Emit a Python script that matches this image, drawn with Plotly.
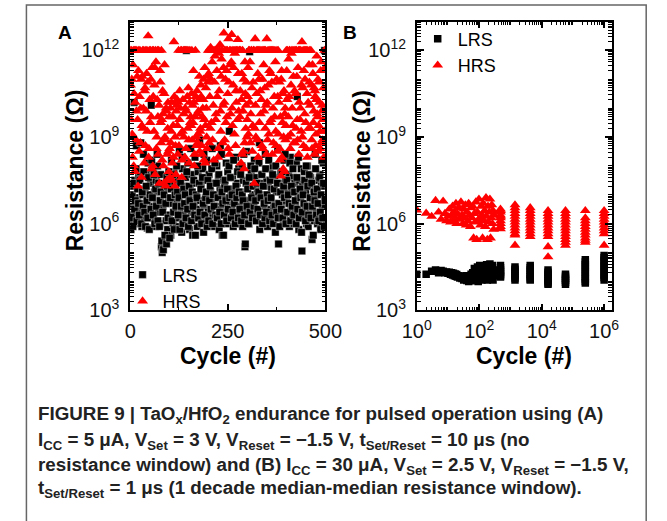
import plotly.graph_objects as go

# ---------------- data (log10 of resistance in ohms) ----------------
A_cycles_even = list(range(0, 500, 2))
A_cycles_odd = list(range(1, 500, 2))

A_lrs_even_log10 = [
    6.3, 5.8, 7.3, 6.6, 6.1, 10.2, 7.5, 6.4, 8.7, 6.9,
    6.0, 7.6, 6.5, 7.8, 6.2, 5.9, 7.0, 8.4, 6.7, 7.2,
    6.4, 7.7, 5.85, 8.1, 6.9, 6.3, 7.4, 10.1, 6.6, 7.9,
    6.2, 7.1, 5.9, 7.5, 6.8, 8.0, 6.4, 7.3, 6.0, 7.7,
    5.2, 5.0, 6.6, 5.3, 7.2, 5.5, 6.1, 7.6, 5.8, 6.9,
    6.3, 7.4, 5.6, 8.2, 6.7, 6.0, 7.8, 6.4, 7.1, 5.9,
    6.8, 7.5, 6.2, 8.5, 6.5, 7.0, 5.7, 7.9, 6.3, 7.3,
    6.1, 7.6, 12.0, 6.6, 8.1, 6.9, 5.8, 7.2, 6.4, 7.7,
    5.6, 7.4, 6.7, 8.3, 6.2, 7.0, 5.9, 7.8, 6.5, 8.9,
    6.8, 7.3, 6.1, 7.9, 5.7, 6.6, 7.5, 6.3, 8.2, 6.9,
    6.4, 7.7, 6.0, 7.1, 6.8, 8.6, 6.2, 7.4, 5.9, 7.0,
    6.6, 8.0, 6.3, 7.6, 5.8, 7.2, 6.5, 8.4, 5.6, 7.5,
    6.9, 7.3, 6.4, 8.1, 6.0, 7.8, 6.7, 9.2, 6.2, 7.0,
    6.5, 7.6, 5.9, 7.2, 6.8, 8.3, 6.3, 7.4, 6.0, 7.9,
    6.6, 7.1, 6.2, 8.0, 5.9, 7.5, 6.4, 5.2, 6.1, 8.5,
    6.8, 7.3, 6.0, 11.95, 6.5, 7.8, 6.2, 7.0, 6.7, 8.2,
    6.4, 7.6, 6.1, 7.2, 6.9, 8.1, 5.8, 7.4, 6.3, 7.7,
    6.0, 7.0, 6.6, 8.4, 6.2, 7.5, 5.9, 7.3, 6.8, 7.9,
    6.5, 7.2, 6.1, 8.0, 6.7, 7.6, 5.7, 7.1, 6.4, 8.6,
    5.3, 7.4, 6.2, 7.8, 6.6, 7.0, 6.0, 8.2, 6.3, 7.5,
    6.8, 7.2, 6.1, 7.7, 5.9, 8.3, 6.5, 7.1, 6.2, 7.6,
    6.0, 7.4, 6.7, 8.1, 10.4, 7.0, 5.8, 7.5, 6.4, 7.9,
    5.05, 7.3, 6.2, 7.8, 6.6, 7.1, 6.0, 8.0, 5.9, 7.4,
    6.5, 7.6, 6.3, 5.45, 6.8, 7.2, 6.1, 8.4, 6.4, 7.0,
    6.0, 7.5, 6.2, 7.7, 5.8, 7.3, 6.6, 8.1, 6.1, 12.0,
]
A_lrs_odd_log10 = [
    6.9, 6.2, 7.0, 5.9, 7.4, 6.5, 6.8, 7.9, 6.1, 7.2,
    6.7, 6.3, 7.5, 8.8, 6.0, 7.1, 6.6, 7.8, 6.4, 5.9,
    7.3, 6.8, 6.2, 7.6, 5.8, 7.0, 6.5, 8.2, 6.9, 6.3,
    7.7, 6.0, 7.2, 6.6, 8.4, 6.1, 7.4, 5.9, 6.8, 7.1,
    5.4, 6.4, 5.1, 7.0, 5.6, 6.7, 5.3, 7.3, 6.2, 7.8,
    5.5, 6.9, 7.2, 6.1, 7.7, 6.4, 5.8, 7.0, 6.6, 8.0,
    7.1, 6.3, 6.9, 5.8, 7.4, 6.6, 8.3, 6.0, 7.2, 6.7,
    7.0, 6.2, 7.8, 6.5, 5.9, 7.3, 6.8, 8.6, 6.1, 7.1,
    6.6, 7.5, 6.3, 5.6, 7.0, 6.9, 8.0, 6.2, 7.4, 6.4,
    7.2, 6.0, 7.6, 6.7, 8.4, 6.3, 6.9, 7.1, 5.9, 7.5,
    6.1, 6.8, 7.3, 6.5, 7.9, 6.0, 7.0, 6.6, 8.1, 6.3,
    7.4, 6.2, 6.9, 7.7, 6.4, 8.7, 6.0, 7.1, 6.7, 5.6,
    6.3, 7.5, 6.8, 6.1, 7.2, 6.5, 8.0, 6.9, 7.6, 6.2,
    7.0, 6.4, 8.2, 6.7, 6.0, 7.3, 6.9, 7.8, 6.2, 7.1,
    6.5, 7.7, 6.1, 7.0, 6.8, 8.4, 6.3, 5.3, 7.4, 6.6,
    7.2, 6.0, 7.6, 6.4, 8.0, 6.9, 6.2, 7.3, 6.6, 7.9,
    6.8, 6.1, 7.4, 6.5, 7.1, 8.8, 6.3, 6.9, 7.7, 6.0,
    7.3, 6.7, 6.2, 7.9, 6.4, 7.0, 6.8, 8.2, 6.1, 7.5,
    6.9, 6.3, 7.7, 6.0, 7.2, 6.6, 8.0, 6.4, 7.4, 6.2,
    6.7, 5.9, 7.1, 6.5, 7.8, 6.2, 7.3, 6.9, 8.4, 6.0,
    7.5, 6.4, 7.0, 6.7, 8.1, 6.1, 7.3, 6.6, 7.9, 6.3,
    7.1, 6.8, 6.0, 7.6, 6.5, 8.3, 6.2, 7.2, 6.9, 5.7,
    6.4, 7.0, 6.7, 7.5, 6.1, 8.0, 6.6, 7.3, 6.3, 7.7,
    6.9, 6.2, 7.4, 6.6, 5.6, 7.1, 6.8, 7.9, 6.3, 7.2,
    6.7, 6.1, 7.6, 6.4, 7.0, 8.2, 6.2, 7.4, 5.9, 6.8,
]

A_hrs_even_log10 = [
    12.0, 9.6, 11.0, 8.3, 12.0, 10.5, 7.8, 12.0, 9.9, 11.1,
    7.3, 12.0, 10.4, 8.8, 11.0, 9.4, 12.0, 10.0, 8.1, 10.7,
    12.0, 11.2, 9.2, 12.5, 8.6, 10.3, 12.0, 9.7, 11.4, 8.0,
    12.0, 10.8, 7.7, 11.6, 9.0, 12.0, 8.4, 10.1, 11.3, 9.5,
    12.0, 8.2, 9.8, 7.4, 11.5, 8.9, 10.0, 7.5, 9.3, 8.5,
    9.7, 7.6, 8.8, 10.2, 8.1, 9.4, 12.3, 7.3, 8.7, 9.9,
    10.3, 8.4, 12.0, 9.6, 10.0, 12.0, 7.6, 9.2, 12.0, 9.0,
    8.3, 12.0, 9.9, 10.4, 12.0, 8.9, 10.2, 9.5, 9.4, 12.0,
    10.1, 11.3, 8.0, 9.7, 10.4, 8.7, 9.8, 9.1, 10.3, 8.5,
    9.3, 10.4, 8.4, 10.0, 11.0, 9.6, 8.1, 10.7, 9.0, 11.1,
    12.0, 8.8, 10.4, 12.1, 9.5, 11.6, 12.0, 8.2, 10.9, 12.0,
    9.8, 11.3, 12.0, 8.6, 10.6, 12.2, 9.2, 11.7, 12.0, 10.1,
    12.6, 8.9, 11.0, 12.0, 9.7, 10.5, 12.4, 8.4, 11.5, 12.0,
    12.55, 9.4, 10.8, 12.0, 11.9, 8.7, 10.2, 12.0, 12.37, 9.9,
    12.0, 10.6, 8.1, 11.2, 12.0, 8.5, 7.9, 11.6, 9.3, 10.9,
    9.6, 11.4, 12.0, 10.2, 8.8, 12.0, 10.7, 9.4, 12.0, 7.4,
    12.4, 9.0, 10.5, 12.0, 8.3, 11.0, 12.0, 9.8, 10.3, 12.0,
    8.6, 11.5, 12.0, 9.3, 10.1, 12.4, 8.9, 10.8, 12.0, 9.5,
    11.2, 12.0, 8.4, 10.0, 12.0, 9.7, 11.6, 8.7, 12.0, 10.4,
    9.1, 10.9, 8.2, 7.65, 11.3, 9.5, 7.9, 10.6, 9.8, 8.9,
    12.0, 10.3, 9.0, 11.7, 12.0, 8.6, 10.8, 12.0, 9.4, 11.1,
    12.0, 8.8, 10.5, 12.0, 9.6, 11.4, 8.4, 12.0, 10.0, 9.2,
    12.3, 10.7, 8.7, 12.0, 11.0, 9.5, 12.0, 8.3, 10.2, 11.5,
    12.0, 9.3, 10.8, 8.6, 11.2, 9.9, 8.4, 10.4, 9.1, 11.8,
    9.7, 8.5, 10.9, 9.2, 11.3, 8.8, 10.1, 9.6, 8.3, 12.0,
]
A_hrs_odd_log10 = [
    10.8, 12.0, 9.1, 11.5, 8.0, 12.0, 10.2, 8.9, 12.0, 9.6,
    11.3, 8.5, 12.0, 10.0, 7.6, 11.1, 9.3, 12.0, 10.6, 8.7,
    9.9, 12.0, 10.9, 8.3, 12.0, 9.5, 11.0, 7.9, 12.0, 10.4,
    9.2, 11.4, 12.0, 8.6, 10.3, 9.7, 12.0, 7.4, 10.9, 8.8,
    9.6, 10.6, 8.0, 10.5, 9.0, 7.3, 9.9, 8.4, 10.2, 7.8,
    8.6, 10.0, 9.2, 7.5, 9.7, 8.3, 10.4, 9.0, 7.7, 10.1,
    9.4, 10.2, 8.7, 10.6, 9.1, 12.0, 8.2, 10.3, 9.8, 12.0,
    10.0, 8.6, 12.0, 9.3, 10.7, 8.1, 12.0, 9.7, 10.5, 8.9,
    9.5, 10.2, 8.4, 12.0, 9.0, 10.6, 8.8, 9.9, 11.1, 9.2,
    10.8, 8.7, 9.7, 10.3, 8.2, 11.4, 9.4, 10.0, 8.6, 10.9,
    11.2, 12.0, 9.3, 11.0, 12.0, 8.9, 10.1, 12.0, 11.8, 9.6,
    12.0, 10.4, 8.3, 11.9, 12.0, 9.9, 11.1, 12.0, 8.8, 11.4,
    10.2, 12.0, 9.5, 11.3, 12.0, 8.6, 10.9, 12.0, 9.8, 11.6,
    10.0, 12.0, 11.4, 9.1, 12.0, 10.6, 12.0, 9.6, 11.2, 12.0,
    9.7, 12.0, 10.3, 8.4, 9.9, 11.0, 8.8, 10.5, 10.1, 9.0,
    10.4, 9.1, 12.0, 11.6, 9.8, 12.0, 8.5, 10.9, 12.0, 9.3,
    10.1, 12.0, 8.9, 11.2, 12.0, 9.5, 10.6, 12.0, 8.7, 11.0,
    12.0, 9.9, 10.7, 12.0, 8.4, 10.2, 12.0, 9.1, 11.3, 12.0,
    9.6, 10.9, 12.0, 8.8, 10.4, 12.0, 9.2, 11.0, 8.5, 12.0,
    10.2, 8.6, 9.7, 11.0, 8.3, 10.5, 9.0, 7.8, 10.0, 9.4,
    11.3, 12.0, 9.7, 10.4, 12.0, 9.1, 11.9, 10.0, 12.0, 8.8,
    10.6, 12.0, 9.3, 11.1, 8.9, 12.0, 10.2, 9.6, 12.0, 10.8,
    9.0, 12.0, 11.3, 9.8, 12.0, 8.6, 10.5, 12.0, 9.3, 10.9,
    10.1, 12.0, 8.9, 11.5, 9.5, 10.7, 10.6, 8.7, 10.3, 9.8,
    11.0, 9.4, 10.2, 8.6, 11.6, 9.9, 8.9, 10.7, 9.2, 11.4,
]

B_early_cycles = [
    1, 2, 3, 4, 5, 6, 7, 8, 9, 10,
    11, 12, 13, 14, 15, 16, 17, 18, 19, 20,
    22, 24, 26, 28, 30, 32, 34, 36, 38, 40,
    43, 46, 49, 52, 55, 58,
    62, 66, 70, 74, 78,
    83, 88, 93, 98,
    104, 110, 116, 122, 128,
    135, 142, 149,
    157, 165, 173,
    182, 191, 200,
    210, 220,
    231, 242, 253,
    265, 277, 290, 300,
]
B_early_lrs_log10 = [
    4.25, 4.25, 4.35, 4.4, 4.3, 4.38, 4.35, 4.3, 4.33, 4.28,
    4.32, 4.25, 4.3, 4.22, 4.28, 4.2, 4.26, 4.18, 4.24, 4.15,
    4.2, 4.12, 4.18, 4.1, 4.16, 4.05, 4.14, 4.08, 4.2, 4.03,
    4.12, 4.0, 4.18, 4.07, 4.25, 4.02,
    4.3, 4.1, 4.45, 4.05, 4.38,
    4.15, 4.5, 4.0, 4.35,
    4.55, 4.1, 4.4, 4.05, 4.48,
    4.2, 4.52, 4.08,
    4.42, 4.12, 4.58,
    4.05, 4.35, 4.5,
    4.15, 4.6,
    4.1, 4.45, 4.25,
    4.55, 4.05, 4.4, 4.2,
]
B_early_hrs_log10 = [
    6.47, 6.36, 6.25, 6.8, 6.4, 6.15, 6.78, 6.35, 6.1, 6.25,
    6.5, 6.05, 6.3, 6.6, 6.1, 6.4, 6.2, 6.7, 6.0, 6.35,
    6.55, 6.15, 6.75, 6.3, 6.0, 6.5, 6.2, 6.65, 5.95, 6.4,
    6.1, 6.7, 6.3, 5.9, 6.55, 6.2,
    6.6, 5.5, 6.35, 6.05, 6.75,
    5.45, 6.4, 6.1, 6.85,
    6.2, 5.95, 6.6, 6.3, 5.5,
    6.7, 6.1, 6.45,
    5.9, 6.9, 6.25,
    5.45, 6.6, 6.05,
    6.4, 6.85,
    5.5, 6.2, 6.65,
    6.0, 6.45, 5.8, 6.3,
]

B_cluster_cycles = [480, 1400, 4300, 16000, 58000, 250000, 1000000]
B_cluster_lrs_log10 = [
    [4.55, 4.47, 4.4, 4.33, 4.26, 4.2, 4.15],
    [4.5, 4.42, 4.35, 4.27, 4.2, 4.12, 4.05],
    [4.55, 4.47, 4.4, 4.32, 4.24, 4.16, 4.08, 4.05],
    [4.4, 4.32, 4.25, 4.17, 4.1, 4.02, 3.95, 3.9],
    [4.25, 4.18, 4.11, 4.04, 3.97, 3.9],
    [4.75, 4.67, 4.58, 4.5, 4.42, 4.33, 4.25, 4.17, 4.08, 4.0, 3.95],
    [4.9, 4.82, 4.73, 4.65, 4.56, 4.48, 4.4, 4.3, 4.22, 4.14, 4.05],
]
B_cluster_hrs_log10 = [
    [6.5, 6.4, 6.3, 6.2, 6.1, 6.0, 5.9, 5.82, 6.45, 6.25],
    [6.65, 6.55, 6.45, 6.35, 6.25, 6.15, 6.05, 5.95, 5.85, 5.75, 5.65, 5.6, 5.25],
    [6.55, 6.45, 6.35, 6.25, 6.15, 6.05, 5.95, 5.85, 5.75, 5.65, 5.55],
    [6.45, 6.35, 6.25, 6.15, 6.05, 5.95, 5.85, 5.75, 5.65, 5.55, 5.2, 4.85],
    [6.45, 6.35, 6.25, 6.15, 6.05, 5.95, 5.85, 5.75, 5.65, 5.55, 5.45, 5.35, 5.25],
    [6.45, 6.2, 6.1, 6.0, 5.9, 5.8, 5.7, 5.6, 5.5, 5.42, 5.35],
    [6.45, 6.35, 6.25, 6.15, 6.05, 5.95, 5.85, 5.75, 5.65, 5.25],
]

series_names = ["LRS", "HRS"]
panel_labels = ["A", "B"]
axis_title_x = "Cycle (#)"
axis_title_y = "Resistance (Ω)"
A_x_ticks = [0, 250, 500]
res_tick_exponents = [3, 6, 9, 12]
B_x_tick_exponents = [0, 2, 4, 6]
caption_lines = [
    "FIGURE 9 | TaO<sub>x</sub>/HfO<sub>2</sub> endurance for pulsed operation using (A)",
    "I<sub>CC</sub> = 5 μA, V<sub>Set</sub> = 3 V, V<sub>Reset</sub> = −1.5 V, t<sub>Set/Reset</sub> = 10 μs (no",
    "resistance window) and (B) I<sub>CC</sub> = 30 μA, V<sub>Set</sub> = 2.5 V, V<sub>Reset</sub> = −1.5 V,",
    "t<sub>Set/Reset</sub> = 1 μs (1 decade median-median resistance window).",
]

# ---------------- build ----------------
W, H = 667, 521
FONT = "Arial, 'Liberation Sans', sans-serif"


def px_x(v):
    return v / W


def px_y(v):
    return 1 - v / H


def flat_x(cycles, groups):
    return [c for c, g in zip(cycles, groups) for _ in g]


def flat_v(groups):
    return [10 ** v for g in groups for v in g]


def pow_label(e):
    return f"10<sup>{e}</sup>"


A_x = A_cycles_even + A_cycles_odd
A_lrs_y = [10 ** v for v in A_lrs_even_log10 + A_lrs_odd_log10]
A_hrs_y = [10 ** v for v in A_hrs_even_log10 + A_hrs_odd_log10]

B_lrs_x = B_early_cycles + flat_x(B_cluster_cycles, B_cluster_lrs_log10)
B_lrs_y = [10 ** v for v in B_early_lrs_log10] + flat_v(B_cluster_lrs_log10)
B_hrs_x = B_early_cycles + flat_x(B_cluster_cycles, B_cluster_hrs_log10)
B_hrs_y = [10 ** v for v in B_early_hrs_log10] + flat_v(B_cluster_hrs_log10)

sq_a = dict(symbol="square", size=7.5, color="black", line=dict(width=0.4, color="white"))
sq_b = dict(symbol="square", size=7.5, color="black", line=dict(width=0))
tri = dict(symbol="triangle-up", size=9.5, color="#ff0000", line=dict(width=0))

fig = go.Figure()
fig.add_trace(go.Scatter(x=A_x, y=A_lrs_y, mode="markers",
                         marker=sq_a, name=series_names[0], xaxis="x", yaxis="y", legend="legend"))
fig.add_trace(go.Scatter(x=A_x, y=A_hrs_y, mode="markers",
                         marker=tri, name=series_names[1], xaxis="x", yaxis="y", legend="legend"))
fig.add_trace(go.Scatter(x=B_lrs_x, y=B_lrs_y, mode="markers",
                         marker=sq_b, name=series_names[0], xaxis="x2", yaxis="y2", legend="legend2"))
fig.add_trace(go.Scatter(x=B_hrs_x, y=B_hrs_y, mode="markers",
                         marker=tri, name=series_names[1], xaxis="x2", yaxis="y2", legend="legend2"))

res_minor = [m * 10 ** d for d in range(3, 13) for m in range(1, 10) if not (m == 1 and d % 3 == 0)]
cyc_minor = [m * 10 ** d for d in range(0, 7) for m in range(1, 10) if not (m == 1 and d % 2 == 0)]

common = dict(showline=True, linecolor="black", linewidth=1.6, mirror="allticks",
              ticks="inside", ticklen=7, tickwidth=1.5, tickcolor="black",
              showgrid=False, zeroline=False,
              tickfont=dict(family=FONT, size=20, color="#111"))
minor_common = dict(ticks="inside", ticklen=4, tickwidth=1, tickcolor="black", showgrid=False)

ydom = [px_y(317), px_y(22)]
res_axis = dict(domain=ydom, type="log", range=[3, 13], tickmode="array",
                tickvals=[10 ** e for e in res_tick_exponents],
                ticktext=[pow_label(e) for e in res_tick_exponents],
                ticklabelstandoff=5,
                minor=dict(tickmode="array", tickvals=res_minor, **minor_common), **common)

fig.update_layout(
    width=W, height=H, autosize=False,
    margin=dict(l=0, r=0, t=0, b=0),
    paper_bgcolor="white", plot_bgcolor="white",
    font=dict(family=FONT, color="black"),
    xaxis=dict(domain=[px_x(121), px_x(326)], range=[0, 500], tickmode="array",
               tickvals=A_x_ticks, ticktext=[str(v) for v in A_x_ticks], ticklabelstandoff=2,
               minor=dict(tickmode="array", tickvals=[125, 375], **minor_common),
               anchor="y", **common),
    yaxis=dict(anchor="x", **res_axis),
    xaxis2=dict(domain=[px_x(422), px_x(627)], type="log", range=[0, 6.25], tickmode="array",
                tickvals=[10 ** e for e in B_x_tick_exponents],
                ticktext=[pow_label(e) for e in B_x_tick_exponents], ticklabelstandoff=2,
                minor=dict(tickmode="array", tickvals=cyc_minor, **minor_common),
                anchor="y2", **common),
    yaxis2=dict(anchor="x2", **res_axis),
    legend=dict(x=px_x(113), y=px_y(262), xanchor="left", yanchor="top",
                bgcolor="rgba(0,0,0,0)", font=dict(family=FONT, size=18),
                tracegroupgap=0, itemsizing="trace"),
    legend2=dict(x=px_x(423), y=px_y(21), xanchor="left", yanchor="top",
                 bgcolor="rgba(0,0,0,0)", font=dict(family=FONT, size=18),
                 tracegroupgap=0, itemsizing="trace"),
    showlegend=True,
)

ann = []
for lab, x in zip(panel_labels, [52, 352]):
    ann.append(dict(text=f"<b>{lab}</b>", x=px_x(x), y=px_y(33), xref="paper", yref="paper",
                    xanchor="center", yanchor="middle",
                    showarrow=False, font=dict(family=FONT, size=19, color="black")))
for xc in [224, 535]:
    ann.append(dict(text=f"<b>{axis_title_x}</b>", x=px_x(xc), y=px_y(364), xref="paper", yref="paper",
                    xanchor="center", yanchor="middle",
                    showarrow=False, font=dict(family=FONT, size=23, color="black")))
for xc in [63, 365]:
    ann.append(dict(text=f"<b>{axis_title_y}</b>", x=px_x(xc), y=px_y(174), xref="paper", yref="paper",
                    xanchor="center", yanchor="middle",
                    showarrow=False, textangle=-90, font=dict(family=FONT, size=23, color="black")))
for line, yc in zip(caption_lines, [424, 451, 476, 500]):
    ann.append(dict(text=f"<b>{line}</b>", x=px_x(22), y=px_y(yc), xref="paper", yref="paper",
                    xanchor="left", yanchor="middle", showarrow=False,
                    font=dict(family=FONT, size=18.8, color="#222")))
fig.update_layout(annotations=ann)

fig.add_shape(type="rect", xref="paper", yref="paper",
              x0=px_x(12), x1=px_x(663), y0=-0.1, y1=px_y(5),
              line=dict(color="#666", width=1.5), fillcolor="rgba(0,0,0,0)", layer="below")

fig.write_html("out.html", config={"displayModeBar": False},
               post_script="document.body.style.margin='0';document.body.style.overflow='hidden';")
